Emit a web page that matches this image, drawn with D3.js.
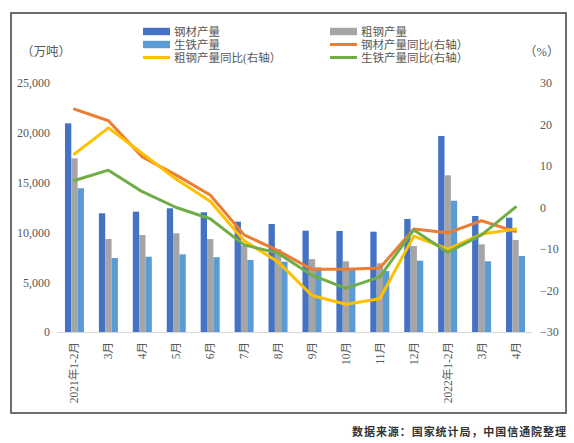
<!DOCTYPE html>
<html><head><meta charset="utf-8">
<script src="https://cdn.jsdelivr.net/npm/d3@7"></script>
<style>
html,body{margin:0;padding:0;background:#fff;}
svg{display:block;}
text{font-family:"Liberation Serif","Noto Sans CJK SC",serif;}
</style></head>
<body>
<svg id="chart" width="574" height="443"></svg>
<script>
// ---- data ----
const categories = ["2021年1-2月","3月","4月","5月","6月","7月","8月","9月","10月","11月","12月","2022年1-2月","3月","4月"];
const steelOutput = [20950, 11920, 12080, 12420, 12020, 11080, 10840, 10170, 10140, 10070, 11350, 19680, 11650, 11480];
const crudeOutput = [17440, 9340, 9740, 9910, 9330, 8650, 8300, 7320, 7100, 6900, 8630, 15730, 8800, 9240];
const pigOutput   = [14430, 7430, 7560, 7800, 7510, 7230, 7060, 6480, 6220, 6120, 7160, 13180, 7100, 7630];
const steelYoY = [23.7, 20.9, 12.2, 7.8, 3.0, -6.6, -10.4, -14.9, -14.9, -14.6, -5.2, -6.1, -3.2, -5.8];
const crudeYoY = [12.9, 19.2, 13.0, 6.8, 1.5, -8.0, -13.1, -21.2, -23.3, -22.0, -6.9, -10.0, -6.4, -5.2];
const pigYoY   = [6.5, 9.0, 3.8, 0.0, -2.7, -9.0, -11.0, -16.3, -19.5, -16.7, -5.4, -10.8, -6.6, 0.1];
const leftTicks = [0, 5000, 10000, 15000, 20000, 25000];
const rightTicks = [-30, -20, -10, 0, 10, 20, 30];
const barSeries = [
  {name:"钢材产量", values: steelOutput, color:"#4472C4"},
  {name:"粗钢产量", values: crudeOutput, color:"#A5A5A5"},
  {name:"生铁产量", values: pigOutput, color:"#5B9BD5"}
];
const lineSeries = [
  {name:"钢材产量同比(右轴）", values: steelYoY, color:"#ED7D31"},
  {name:"粗钢产量同比(右轴）", values: crudeYoY, color:"#FFC000"},
  {name:"生铁产量同比(右轴）", values: pigYoY, color:"#70AD47"}
];
const unitLeft = "（万吨）", unitRight = "（%）";
const sourceText = "数据来源：国家统计局，中国信通院整理";

// ---- drawing ----
const svg = d3.select("#chart");
const textColor = "#595959";

svg.append("rect").attr("x",11).attr("y",13).attr("width",555).attr("height",400)
  .attr("fill","#fff").attr("stroke","#3f3f3f").attr("stroke-width",1.5);

const idx = d3.range(categories.length);
const x = d3.scaleBand().domain(idx).range([57.5, 532.5]).paddingInner(0.44).paddingOuter(0.22);
const xs = d3.scaleBand().domain(d3.range(barSeries.length)).range([0, x.bandwidth()]);
const yL = d3.scaleLinear().domain([0, 25000]).range([332, 83]);
const yR = d3.scaleLinear().domain([-30, 30]).range([332, 83]);

// bars
barSeries.forEach((s, si) => {
  svg.append("g").selectAll("rect").data(s.values).join("rect")
    .attr("x", (d,i) => x(i) + xs(si))
    .attr("width", xs.bandwidth())
    .attr("y", d => yL(d))
    .attr("height", d => yL(0) - yL(d))
    .attr("fill", s.color);
});

// baseline
svg.append("line").attr("x1",57.5).attr("x2",532.5).attr("y1",yL(0)+0.5).attr("y2",yL(0)+0.5)
  .attr("stroke","#d9d9d9").attr("stroke-width",1);

// lines
const line = d3.line().x((d,i) => x(i) + x.bandwidth()/2).y(d => yR(d));
lineSeries.forEach(s => {
  svg.append("path").datum(s.values).attr("d", line)
    .attr("fill","none").attr("stroke", s.color).attr("stroke-width",3)
    .attr("stroke-linejoin","round").attr("stroke-linecap","round");
});

// left axis
const gL = svg.append("g").attr("transform","translate(50,0)")
  .call(d3.axisLeft(yL).tickValues(leftTicks).tickSize(0).tickPadding(0).tickFormat(d3.format(",")));
gL.select(".domain").remove();
gL.selectAll("text").attr("fill",textColor).attr("font-size",12).attr("font-family",'"Liberation Serif",serif');

// right axis
const gR = svg.append("g").attr("transform","translate(540,0)")
  .call(d3.axisRight(yR).tickValues(rightTicks).tickSize(0).tickPadding(0));
gR.select(".domain").remove();
gR.selectAll("text").attr("fill",textColor).attr("font-size",12).attr("font-family",'"Liberation Serif",serif');

// x labels
const gX = svg.append("g").attr("transform","translate(0,338)")
  .call(d3.axisBottom(x).tickSize(0).tickPadding(0).tickFormat(i => categories[i]));
gX.select(".domain").remove();
gX.selectAll("text")
  .attr("transform","rotate(-90)")
  .attr("x",-4).attr("y",0).attr("dy","0.35em")
  .attr("text-anchor","end")
  .attr("fill",textColor).attr("font-size",11.5);

// units
svg.append("text").attr("x",21).attr("y",56).attr("font-size",12.5).attr("fill",textColor).text(unitLeft);
svg.append("text").attr("x",524).attr("y",56).attr("font-size",12.5).attr("fill",textColor).text(unitRight);

// legend
const legendItems = [
  {s: barSeries[0], type:"bar", col:0, row:0},
  {s: barSeries[1], type:"bar", col:1, row:0},
  {s: barSeries[2], type:"bar", col:0, row:1},
  {s: lineSeries[0], type:"line", col:1, row:1},
  {s: lineSeries[1], type:"line", col:0, row:2},
  {s: lineSeries[2], type:"line", col:1, row:2}
];
const colX = [143, 330], rowY = [31.5, 44.5, 57.5];
const lg = svg.append("g");
legendItems.forEach(it => {
  const gx = colX[it.col], gy = rowY[it.row];
  if (it.type === "bar") {
    lg.append("rect").attr("x",gx).attr("y",gy-3.7).attr("width",27).attr("height",7.4).attr("fill",it.s.color);
  } else {
    lg.append("line").attr("x1",gx).attr("x2",gx+27).attr("y1",gy).attr("y2",gy)
      .attr("stroke",it.s.color).attr("stroke-width",3);
  }
  lg.append("text").attr("x",gx+31).attr("y",gy).attr("dy","0.36em")
    .attr("font-size",11.5).attr("fill",textColor).text(it.s.name);
});

// source
svg.append("text").attr("x",566).attr("y",436).attr("text-anchor","end")
  .attr("font-size",11).attr("font-weight","bold").attr("fill","#333")
  .attr("textLength",214).attr("lengthAdjust","spacing").text(sourceText);
</script>
</body></html>
